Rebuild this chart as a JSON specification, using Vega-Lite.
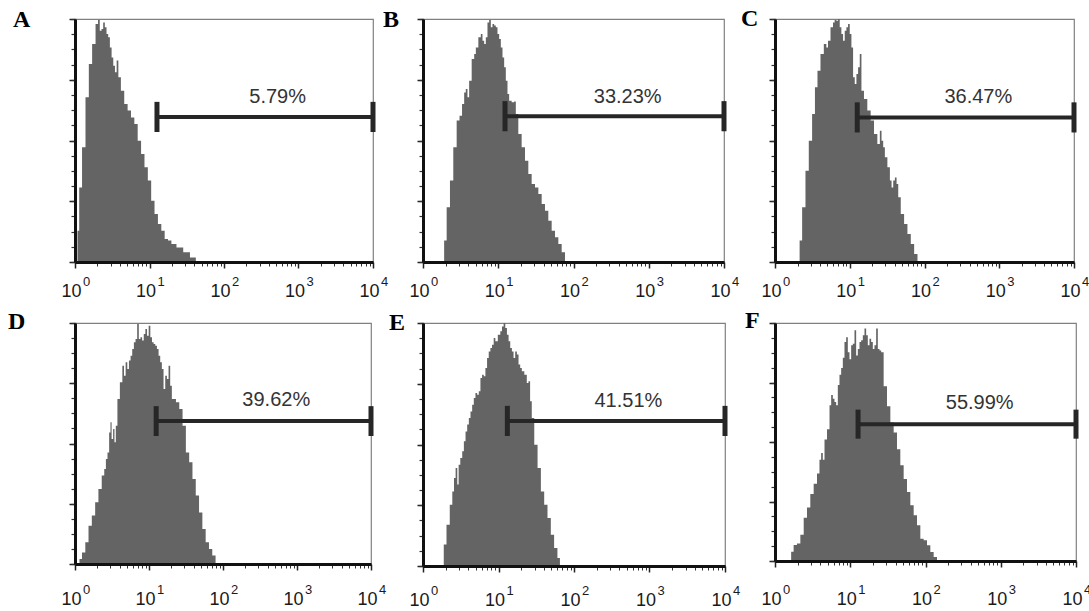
{
"$schema": "https://vega.github.io/schema/vega-lite/v6.json",
"padding": {"left": 7, "top": 6, "right": 0, "bottom": 0},
"background": "white",
"datasets": {
"gate": [
{"p":"A","x0":12.6,"x1":10000,"y":59.7,"tx":525,"ty":68,"pct":"5.79%"},
{"p":"B","x0":12.3,"x1":10000,"y":60,"tx":525,"ty":68,"pct":"33.23%"},
{"p":"C","x0":12.6,"x1":10000,"y":59.5,"tx":525,"ty":68,"pct":"36.47%"},
{"p":"D","x0":12.5,"x1":10000,"y":59.3,"tx":525,"ty":68,"pct":"39.62%"},
{"p":"E","x0":13.1,"x1":10000,"y":59.7,"tx":525,"ty":68,"pct":"41.51%"},
{"p":"F","x0":12.7,"x1":10000,"y":57.5,"tx":525,"ty":66.5,"pct":"55.99%"}
],
"cap": [
{"p":"A","x":12.6,"lo":53.5,"hi":65.9},{"p":"A","x":10000,"lo":53.5,"hi":65.9},
{"p":"B","x":12.3,"lo":53.8,"hi":66.2},{"p":"B","x":10000,"lo":53.8,"hi":66.2},
{"p":"C","x":12.6,"lo":53.3,"hi":65.7},{"p":"C","x":10000,"lo":53.3,"hi":65.7},
{"p":"D","x":12.5,"lo":53.1,"hi":65.5},{"p":"D","x":10000,"lo":53.1,"hi":65.5},
{"p":"E","x":13.1,"lo":53.5,"hi":65.9},{"p":"E","x":10000,"lo":53.5,"hi":65.9},
{"p":"F","x":12.7,"lo":51.4,"hi":63.6},{"p":"F","x":10000,"lo":51.4,"hi":63.6}
],
"hist": [
{"p":"A","x":1.06,"y":0},{"p":"A","x":1.10,"y":12.9},{"p":"A","x":1.18,"y":30.7},{"p":"A","x":1.31,"y":47.2},{"p":"A","x":1.46,"y":67.8},{"p":"A","x":1.61,"y":81.5},{"p":"A","x":1.79,"y":89.7},{"p":"A","x":1.99,"y":97.9},{"p":"A","x":2.09,"y":99.6},{"p":"A","x":2.21,"y":95.2},{"p":"A","x":2.33,"y":95.9},{"p":"A","x":2.45,"y":98.6},{"p":"A","x":2.58,"y":96.6},{"p":"A","x":2.72,"y":93.8},{"p":"A","x":2.86,"y":92.5},{"p":"A","x":3.02,"y":88.3},{"p":"A","x":3.18,"y":84.2},{"p":"A","x":3.35,"y":80.8},{"p":"A","x":3.53,"y":78.1},{"p":"A","x":3.72,"y":82.9},{"p":"A","x":3.92,"y":76.0},{"p":"A","x":4.35,"y":70.5},{"p":"A","x":4.82,"y":65.0},{"p":"A","x":5.36,"y":62.3},{"p":"A","x":5.94,"y":59.5},{"p":"A","x":6.59,"y":56.8},{"p":"A","x":7.31,"y":49.9},{"p":"A","x":8.13,"y":44.4},{"p":"A","x":9.02,"y":39.0},{"p":"A","x":10.0,"y":33.5},{"p":"A","x":11.09,"y":25.2},{"p":"A","x":12.30,"y":19.8},{"p":"A","x":13.68,"y":15.6},{"p":"A","x":15.17,"y":12.9},{"p":"A","x":16.83,"y":9.5},{"p":"A","x":18.66,"y":8.8},{"p":"A","x":20.75,"y":7.4},{"p":"A","x":25.53,"y":6.0},{"p":"A","x":31.48,"y":4.0},{"p":"A","x":38.73,"y":1.9},{"p":"A","x":45.29,"y":0},
{"p":"B","x":1.86,"y":0},{"p":"B","x":1.96,"y":8.8},{"p":"B","x":2.17,"y":22.5},{"p":"B","x":2.40,"y":33.5},{"p":"B","x":2.66,"y":47.2},{"p":"B","x":2.95,"y":58.2},{"p":"B","x":3.17,"y":60.2},{"p":"B","x":3.44,"y":65.0},{"p":"B","x":3.61,"y":69.8},{"p":"B","x":3.80,"y":71.2},{"p":"B","x":4.00,"y":67.8},{"p":"B","x":4.21,"y":74.6},{"p":"B","x":4.67,"y":83.5},{"p":"B","x":4.91,"y":85.6},{"p":"B","x":5.17,"y":88.3},{"p":"B","x":5.72,"y":92.5},{"p":"B","x":6.02,"y":93.8},{"p":"B","x":6.33,"y":91.1},{"p":"B","x":6.67,"y":89.7},{"p":"B","x":7.01,"y":92.5},{"p":"B","x":7.38,"y":98.6},{"p":"B","x":7.77,"y":99.6},{"p":"B","x":8.17,"y":96.6},{"p":"B","x":8.60,"y":97.9},{"p":"B","x":9.05,"y":97.3},{"p":"B","x":9.52,"y":96.6},{"p":"B","x":10.02,"y":93.8},{"p":"B","x":10.55,"y":91.8},{"p":"B","x":11.10,"y":88.3},{"p":"B","x":11.68,"y":84.2},{"p":"B","x":12.29,"y":80.1},{"p":"B","x":12.93,"y":74.6},{"p":"B","x":13.61,"y":69.1},{"p":"B","x":14.32,"y":66.4},{"p":"B","x":15.86,"y":65.7},{"p":"B","x":16.69,"y":66.1},{"p":"B","x":17.56,"y":60.9},{"p":"B","x":19.44,"y":52.7},{"p":"B","x":21.53,"y":47.2},{"p":"B","x":23.86,"y":41.7},{"p":"B","x":26.40,"y":36.2},{"p":"B","x":29.24,"y":32.1},{"p":"B","x":32.42,"y":30.7},{"p":"B","x":35.89,"y":28.0},{"p":"B","x":39.72,"y":23.9},{"p":"B","x":43.97,"y":21.1},{"p":"B","x":48.71,"y":17.0},{"p":"B","x":53.95,"y":12.9},{"p":"B","x":59.72,"y":10.2},{"p":"B","x":66.18,"y":7.4},{"p":"B","x":73.28,"y":4.0},{"p":"B","x":81.13,"y":0},
{"p":"C","x":2.08,"y":0},{"p":"C","x":2.19,"y":8.8},{"p":"C","x":2.43,"y":22.5},{"p":"C","x":2.69,"y":37.6},{"p":"C","x":2.98,"y":49.9},{"p":"C","x":3.30,"y":60.9},{"p":"C","x":3.55,"y":71.9},{"p":"C","x":3.86,"y":78.7},{"p":"C","x":4.27,"y":85.6},{"p":"C","x":4.74,"y":89.7},{"p":"C","x":4.99,"y":88.3},{"p":"C","x":5.25,"y":91.1},{"p":"C","x":5.82,"y":96.6},{"p":"C","x":6.12,"y":98.6},{"p":"C","x":6.45,"y":99.6},{"p":"C","x":6.79,"y":99.3},{"p":"C","x":7.16,"y":100},{"p":"C","x":7.53,"y":96.6},{"p":"C","x":7.93,"y":93.8},{"p":"C","x":8.35,"y":91.1},{"p":"C","x":8.79,"y":95.2},{"p":"C","x":9.25,"y":96.6},{"p":"C","x":9.74,"y":97.9},{"p":"C","x":10.26,"y":93.8},{"p":"C","x":10.80,"y":88.3},{"p":"C","x":11.37,"y":76.0},{"p":"C","x":11.97,"y":73.3},{"p":"C","x":12.60,"y":77.4},{"p":"C","x":13.27,"y":80.1},{"p":"C","x":13.97,"y":85.6},{"p":"C","x":14.71,"y":70.5},{"p":"C","x":16.32,"y":67.1},{"p":"C","x":18.07,"y":62.3},{"p":"C","x":20.05,"y":58.2},{"p":"C","x":22.23,"y":52.7},{"p":"C","x":24.63,"y":48.6},{"p":"C","x":25.93,"y":54.0},{"p":"C","x":27.30,"y":49.9},{"p":"C","x":28.74,"y":47.2},{"p":"C","x":30.26,"y":43.1},{"p":"C","x":33.56,"y":39.0},{"p":"C","x":35.33,"y":33.5},{"p":"C","x":37.19,"y":30.7},{"p":"C","x":39.15,"y":33.5},{"p":"C","x":41.22,"y":34.8},{"p":"C","x":43.40,"y":32.1},{"p":"C","x":45.69,"y":26.6},{"p":"C","x":50.68,"y":19.8},{"p":"C","x":56.13,"y":15.6},{"p":"C","x":62.24,"y":11.5},{"p":"C","x":69.02,"y":7.4},{"p":"C","x":76.56,"y":3.3},{"p":"C","x":84.80,"y":0},
{"p":"D","x":1.12,"y":0},{"p":"D","x":1.18,"y":2.1},{"p":"D","x":1.31,"y":4.8},{"p":"D","x":1.45,"y":9.0},{"p":"D","x":1.60,"y":15.9},{"p":"D","x":1.78,"y":20.1},{"p":"D","x":1.97,"y":25.6},{"p":"D","x":2.18,"y":31.1},{"p":"D","x":2.42,"y":36.7},{"p":"D","x":2.55,"y":39.4},{"p":"D","x":2.68,"y":43.6},{"p":"D","x":2.82,"y":46.3},{"p":"D","x":2.97,"y":54.6},{"p":"D","x":3.06,"y":58.8},{"p":"D","x":3.19,"y":51.9},{"p":"D","x":3.36,"y":56.0},{"p":"D","x":3.47,"y":50.5},{"p":"D","x":3.65,"y":57.4},{"p":"D","x":3.84,"y":68.5},{"p":"D","x":4.25,"y":75.4},{"p":"D","x":4.48,"y":82.3},{"p":"D","x":4.71,"y":78.1},{"p":"D","x":4.96,"y":83.7},{"p":"D","x":5.22,"y":80.9},{"p":"D","x":5.50,"y":84.4},{"p":"D","x":5.78,"y":86.4},{"p":"D","x":6.09,"y":89.2},{"p":"D","x":6.41,"y":92.0},{"p":"D","x":6.75,"y":93.4},{"p":"D","x":7.10,"y":99.6},{"p":"D","x":7.47,"y":93.4},{"p":"D","x":7.87,"y":94.1},{"p":"D","x":8.28,"y":92.7},{"p":"D","x":8.71,"y":95.4},{"p":"D","x":9.17,"y":97.5},{"p":"D","x":9.65,"y":94.7},{"p":"D","x":10.16,"y":98.9},{"p":"D","x":10.69,"y":94.1},{"p":"D","x":11.26,"y":92.0},{"p":"D","x":11.85,"y":91.3},{"p":"D","x":12.47,"y":90.6},{"p":"D","x":13.13,"y":89.2},{"p":"D","x":13.82,"y":86.4},{"p":"D","x":14.54,"y":83.7},{"p":"D","x":15.31,"y":80.9},{"p":"D","x":16.14,"y":72.6},{"p":"D","x":17.01,"y":78.1},{"p":"D","x":17.91,"y":76.8},{"p":"D","x":18.85,"y":82.3},{"p":"D","x":19.84,"y":74.0},{"p":"D","x":20.88,"y":68.5},{"p":"D","x":21.98,"y":68.5},{"p":"D","x":24.36,"y":67.1},{"p":"D","x":26.98,"y":64.3},{"p":"D","x":29.91,"y":57.4},{"p":"D","x":33.17,"y":46.3},{"p":"D","x":36.73,"y":42.2},{"p":"D","x":40.70,"y":35.3},{"p":"D","x":45.09,"y":28.4},{"p":"D","x":49.96,"y":21.4},{"p":"D","x":55.40,"y":14.5},{"p":"D","x":61.39,"y":9.0},{"p":"D","x":68.02,"y":6.2},{"p":"D","x":75.37,"y":3.5},{"p":"D","x":83.52,"y":0},
{"p":"E","x":1.82,"y":0},{"p":"E","x":1.95,"y":8.8},{"p":"E","x":2.15,"y":17.0},{"p":"E","x":2.38,"y":25.2},{"p":"E","x":2.51,"y":30.7},{"p":"E","x":2.64,"y":36.2},{"p":"E","x":2.77,"y":40.3},{"p":"E","x":2.92,"y":33.5},{"p":"E","x":3.01,"y":41.7},{"p":"E","x":3.23,"y":44.4},{"p":"E","x":3.39,"y":47.2},{"p":"E","x":3.57,"y":51.3},{"p":"E","x":3.75,"y":55.4},{"p":"E","x":3.95,"y":58.2},{"p":"E","x":4.15,"y":60.9},{"p":"E","x":4.37,"y":63.6},{"p":"E","x":4.59,"y":66.4},{"p":"E","x":4.83,"y":69.1},{"p":"E","x":5.08,"y":71.2},{"p":"E","x":5.35,"y":70.5},{"p":"E","x":5.62,"y":71.9},{"p":"E","x":5.91,"y":77.4},{"p":"E","x":6.22,"y":78.7},{"p":"E","x":6.54,"y":78.1},{"p":"E","x":6.88,"y":81.5},{"p":"E","x":7.24,"y":85.6},{"p":"E","x":7.61,"y":88.3},{"p":"E","x":8.01,"y":89.7},{"p":"E","x":8.42,"y":91.1},{"p":"E","x":8.86,"y":93.8},{"p":"E","x":9.31,"y":92.5},{"p":"E","x":10.30,"y":95.2},{"p":"E","x":10.84,"y":96.6},{"p":"E","x":11.40,"y":98.6},{"p":"E","x":11.99,"y":100},{"p":"E","x":12.61,"y":97.9},{"p":"E","x":13.26,"y":95.2},{"p":"E","x":13.95,"y":92.5},{"p":"E","x":14.67,"y":89.7},{"p":"E","x":15.43,"y":88.3},{"p":"E","x":16.23,"y":85.6},{"p":"E","x":17.07,"y":88.3},{"p":"E","x":17.96,"y":87.0},{"p":"E","x":18.89,"y":82.9},{"p":"E","x":19.87,"y":81.5},{"p":"E","x":20.89,"y":80.1},{"p":"E","x":23.11,"y":78.7},{"p":"E","x":24.31,"y":75.3},{"p":"E","x":25.57,"y":76.0},{"p":"E","x":26.89,"y":67.8},{"p":"E","x":28.29,"y":60.9},{"p":"E","x":31.30,"y":49.9},{"p":"E","x":34.62,"y":40.3},{"p":"E","x":38.30,"y":30.7},{"p":"E","x":42.37,"y":25.2},{"p":"E","x":46.87,"y":19.8},{"p":"E","x":51.84,"y":12.9},{"p":"E","x":57.35,"y":7.4},{"p":"E","x":63.44,"y":3.3},{"p":"E","x":66.73,"y":0},
{"p":"F","x":1.60,"y":0},{"p":"F","x":1.68,"y":3.9},{"p":"F","x":1.86,"y":6.7},{"p":"F","x":2.06,"y":7.4},{"p":"F","x":2.29,"y":11.0},{"p":"F","x":2.53,"y":18.2},{"p":"F","x":2.80,"y":22.5},{"p":"F","x":3.10,"y":28.2},{"p":"F","x":3.44,"y":32.5},{"p":"F","x":3.80,"y":36.8},{"p":"F","x":4.00,"y":42.5},{"p":"F","x":4.21,"y":45.4},{"p":"F","x":4.43,"y":42.5},{"p":"F","x":4.67,"y":51.1},{"p":"F","x":5.17,"y":55.4},{"p":"F","x":5.44,"y":65.4},{"p":"F","x":5.72,"y":69.7},{"p":"F","x":6.02,"y":68.2},{"p":"F","x":6.33,"y":66.8},{"p":"F","x":6.67,"y":65.4},{"p":"F","x":7.01,"y":74.0},{"p":"F","x":7.38,"y":78.3},{"p":"F","x":7.77,"y":81.1},{"p":"F","x":8.17,"y":85.4},{"p":"F","x":8.60,"y":92.0},{"p":"F","x":9.05,"y":94.0},{"p":"F","x":9.52,"y":87.7},{"p":"F","x":10.02,"y":84.8},{"p":"F","x":10.55,"y":90.6},{"p":"F","x":11.10,"y":91.3},{"p":"F","x":11.68,"y":97.0},{"p":"F","x":12.29,"y":86.3},{"p":"F","x":12.93,"y":89.1},{"p":"F","x":13.61,"y":92.0},{"p":"F","x":14.32,"y":92.7},{"p":"F","x":15.07,"y":94.9},{"p":"F","x":15.86,"y":97.7},{"p":"F","x":16.69,"y":94.9},{"p":"F","x":17.56,"y":90.6},{"p":"F","x":18.48,"y":93.4},{"p":"F","x":19.44,"y":92.0},{"p":"F","x":20.46,"y":89.1},{"p":"F","x":21.53,"y":90.6},{"p":"F","x":22.66,"y":97.7},{"p":"F","x":23.86,"y":89.1},{"p":"F","x":25.10,"y":88.4},{"p":"F","x":26.40,"y":87.7},{"p":"F","x":29.24,"y":73.4},{"p":"F","x":32.42,"y":65.0},{"p":"F","x":35.89,"y":58.2},{"p":"F","x":39.72,"y":54.0},{"p":"F","x":43.97,"y":47.0},{"p":"F","x":48.71,"y":40.2},{"p":"F","x":53.95,"y":34.5},{"p":"F","x":59.72,"y":29.0},{"p":"F","x":66.18,"y":23.4},{"p":"F","x":73.28,"y":19.2},{"p":"F","x":81.13,"y":15.0},{"p":"F","x":89.80,"y":9.4},{"p":"F","x":99.5,"y":8.7},{"p":"F","x":110.2,"y":6.6},{"p":"F","x":121.9,"y":3.8},{"p":"F","x":135.1,"y":1.7},{"p":"F","x":149.6,"y":0}
]
},
"bounds": "flush",
"align": "each",
"columns": 3,
"spacing": {"row": 61, "column": 50},
"concat": [
{"width": 298, "height": 243,
"title": {"text": "A", "anchor": "start", "frame": "group", "orient": "top", "baseline": "alphabetic", "offset": 0, "dx": -62, "dy": 33, "font": "Liberation Serif", "fontSize": 24, "fontWeight": "bold", "color": "#000"},
"layer": [
{"data": {"name": "hist"}, "transform": [{"filter": "datum.p === 'A'"}], "mark": {"type": "area", "interpolate": "step", "color": "#646464"},
"encoding": {"x": {"field": "x", "type": "quantitative", "scale": {"type": "log", "domain": [1, 10000]}, "axis": {"orient": "bottom", "zindex": 1, "values": [1,10,100,1000,10000], "labelExpr": "'10'", "tickSize": 6, "tickWidth": 1.5, "tickColor": "#222", "domainColor": "#111", "domainWidth": 3, "labelFontSize": 18, "labelColor": "#1a1a1a", "labelPadding": 14, "labelOffset": -4, "labelFlush": false, "labelOverlap": false, "labelBound": false, "title": null, "grid": false}},
"y": {"field": "y", "type": "quantitative", "scale": {"domain": [0, 100]}, "axis": {"orient": "left", "zindex": 1, "values": [0,6.25,12.5,18.75,25,31.25,37.5,43.75,50,56.25,62.5,68.75,75,81.25,87.5,93.75,100], "tickSize": 4, "tickWidth": 1.2, "tickColor": "#333", "labels": false, "domainColor": "#111", "domainWidth": 3, "title": null, "grid": false}}}},
{"data": {"name": "gate"}, "transform": [{"filter": "datum.p === 'A'"}], "mark": {"type": "rule", "strokeWidth": 4, "color": "#262626"},
"encoding": {"x": {"field": "x0", "type": "quantitative", "axis": {"orient": "bottom", "values": [2,3,4,5,6,7,8,9,20,30,40,50,60,70,80,90,200,300,400,500,600,700,800,900,2000,3000,4000,5000,6000,7000,8000,9000], "tickSize": 4, "tickWidth": 1, "tickColor": "#333", "labels": false, "domain": false, "title": null, "grid": false}}, "x2": {"field": "x1"},
"y": {"field": "y", "type": "quantitative", "axis": {"orient": "left", "values": [0,25,50,75,100], "tickSize": 6, "tickWidth": 1.5, "tickColor": "#222", "labels": false, "domain": false, "title": null, "grid": false}}}},
{"data": {"name": "cap"}, "transform": [{"filter": "datum.p === 'A'"}], "mark": {"type": "rule", "strokeWidth": 5, "color": "#262626"},
"encoding": {"x": {"field": "x", "type": "quantitative", "axis": {"orient": "bottom", "values": [1,10,100,1000,10000], "labelExpr": "'' + round(log(datum.value)/LN10)", "ticks": false, "tickSize": 0, "domain": false, "labelFontSize": 13, "labelColor": "#1a1a1a", "labelPadding": 13, "labelOffset": 11, "labelFlush": false, "labelOverlap": false, "labelBound": false, "title": null, "grid": false}},
"y": {"field": "lo", "type": "quantitative", "axis": null}, "y2": {"field": "hi"}}},
{"data": {"name": "gate"}, "transform": [{"filter": "datum.p === 'A'"}], "mark": {"type": "text", "font": "Liberation Sans", "fontSize": 20, "color": "#333", "align": "center", "baseline": "middle"},
"encoding": {"x": {"field": "tx", "type": "quantitative", "axis": null}, "y": {"field": "ty", "type": "quantitative", "axis": null}, "text": {"field": "pct"}}}
],
"resolve": {"axis": {"x": "independent", "y": "independent"}}},
{"width": 301, "height": 243,
"title": {"text": "B", "anchor": "start", "frame": "group", "orient": "top", "baseline": "alphabetic", "offset": 0, "dx": -40, "dy": 33, "font": "Liberation Serif", "fontSize": 24, "fontWeight": "bold", "color": "#000"},
"layer": [
{"data": {"name": "hist"}, "transform": [{"filter": "datum.p === 'B'"}], "mark": {"type": "area", "interpolate": "step", "color": "#646464"},
"encoding": {"x": {"field": "x", "type": "quantitative", "scale": {"type": "log", "domain": [1, 10000]}, "axis": {"orient": "bottom", "zindex": 1, "values": [1,10,100,1000,10000], "labelExpr": "'10'", "tickSize": 6, "tickWidth": 1.5, "tickColor": "#222", "domainColor": "#111", "domainWidth": 3, "labelFontSize": 18, "labelColor": "#1a1a1a", "labelPadding": 14, "labelOffset": -4, "labelFlush": false, "labelOverlap": false, "labelBound": false, "title": null, "grid": false}},
"y": {"field": "y", "type": "quantitative", "scale": {"domain": [0, 100]}, "axis": {"orient": "left", "zindex": 1, "values": [0,6.25,12.5,18.75,25,31.25,37.5,43.75,50,56.25,62.5,68.75,75,81.25,87.5,93.75,100], "tickSize": 4, "tickWidth": 1.2, "tickColor": "#333", "labels": false, "domainColor": "#111", "domainWidth": 3, "title": null, "grid": false}}}},
{"data": {"name": "gate"}, "transform": [{"filter": "datum.p === 'B'"}], "mark": {"type": "rule", "strokeWidth": 4, "color": "#262626"},
"encoding": {"x": {"field": "x0", "type": "quantitative", "axis": {"orient": "bottom", "values": [2,3,4,5,6,7,8,9,20,30,40,50,60,70,80,90,200,300,400,500,600,700,800,900,2000,3000,4000,5000,6000,7000,8000,9000], "tickSize": 4, "tickWidth": 1, "tickColor": "#333", "labels": false, "domain": false, "title": null, "grid": false}}, "x2": {"field": "x1"},
"y": {"field": "y", "type": "quantitative", "axis": {"orient": "left", "values": [0,25,50,75,100], "tickSize": 6, "tickWidth": 1.5, "tickColor": "#222", "labels": false, "domain": false, "title": null, "grid": false}}}},
{"data": {"name": "cap"}, "transform": [{"filter": "datum.p === 'B'"}], "mark": {"type": "rule", "strokeWidth": 5, "color": "#262626"},
"encoding": {"x": {"field": "x", "type": "quantitative", "axis": {"orient": "bottom", "values": [1,10,100,1000,10000], "labelExpr": "'' + round(log(datum.value)/LN10)", "ticks": false, "tickSize": 0, "domain": false, "labelFontSize": 13, "labelColor": "#1a1a1a", "labelPadding": 13, "labelOffset": 11, "labelFlush": false, "labelOverlap": false, "labelBound": false, "title": null, "grid": false}},
"y": {"field": "lo", "type": "quantitative", "axis": null}, "y2": {"field": "hi"}}},
{"data": {"name": "gate"}, "transform": [{"filter": "datum.p === 'B'"}], "mark": {"type": "text", "font": "Liberation Sans", "fontSize": 20, "color": "#333", "align": "center", "baseline": "middle"},
"encoding": {"x": {"field": "tx", "type": "quantitative", "axis": null}, "y": {"field": "ty", "type": "quantitative", "axis": null}, "text": {"field": "pct"}}}
],
"resolve": {"axis": {"x": "independent", "y": "independent"}}},
{"width": 299, "height": 243,
"title": {"text": "C", "anchor": "start", "frame": "group", "orient": "top", "baseline": "alphabetic", "offset": 0, "dx": -34, "dy": 32, "font": "Liberation Serif", "fontSize": 24, "fontWeight": "bold", "color": "#000"},
"layer": [
{"data": {"name": "hist"}, "transform": [{"filter": "datum.p === 'C'"}], "mark": {"type": "area", "interpolate": "step", "color": "#646464"},
"encoding": {"x": {"field": "x", "type": "quantitative", "scale": {"type": "log", "domain": [1, 10000]}, "axis": {"orient": "bottom", "zindex": 1, "values": [1,10,100,1000,10000], "labelExpr": "'10'", "tickSize": 6, "tickWidth": 1.5, "tickColor": "#222", "domainColor": "#111", "domainWidth": 3, "labelFontSize": 18, "labelColor": "#1a1a1a", "labelPadding": 14, "labelOffset": -4, "labelFlush": false, "labelOverlap": false, "labelBound": false, "title": null, "grid": false}},
"y": {"field": "y", "type": "quantitative", "scale": {"domain": [0, 100]}, "axis": {"orient": "left", "zindex": 1, "values": [0,6.25,12.5,18.75,25,31.25,37.5,43.75,50,56.25,62.5,68.75,75,81.25,87.5,93.75,100], "tickSize": 4, "tickWidth": 1.2, "tickColor": "#333", "labels": false, "domainColor": "#111", "domainWidth": 3, "title": null, "grid": false}}}},
{"data": {"name": "gate"}, "transform": [{"filter": "datum.p === 'C'"}], "mark": {"type": "rule", "strokeWidth": 4, "color": "#262626"},
"encoding": {"x": {"field": "x0", "type": "quantitative", "axis": {"orient": "bottom", "values": [2,3,4,5,6,7,8,9,20,30,40,50,60,70,80,90,200,300,400,500,600,700,800,900,2000,3000,4000,5000,6000,7000,8000,9000], "tickSize": 4, "tickWidth": 1, "tickColor": "#333", "labels": false, "domain": false, "title": null, "grid": false}}, "x2": {"field": "x1"},
"y": {"field": "y", "type": "quantitative", "axis": {"orient": "left", "values": [0,25,50,75,100], "tickSize": 6, "tickWidth": 1.5, "tickColor": "#222", "labels": false, "domain": false, "title": null, "grid": false}}}},
{"data": {"name": "cap"}, "transform": [{"filter": "datum.p === 'C'"}], "mark": {"type": "rule", "strokeWidth": 5, "color": "#262626"},
"encoding": {"x": {"field": "x", "type": "quantitative", "axis": {"orient": "bottom", "values": [1,10,100,1000,10000], "labelExpr": "'' + round(log(datum.value)/LN10)", "ticks": false, "tickSize": 0, "domain": false, "labelFontSize": 13, "labelColor": "#1a1a1a", "labelPadding": 13, "labelOffset": 11, "labelFlush": false, "labelOverlap": false, "labelBound": false, "title": null, "grid": false}},
"y": {"field": "lo", "type": "quantitative", "axis": null}, "y2": {"field": "hi"}}},
{"data": {"name": "gate"}, "transform": [{"filter": "datum.p === 'C'"}], "mark": {"type": "text", "font": "Liberation Sans", "fontSize": 20, "color": "#333", "align": "center", "baseline": "middle"},
"encoding": {"x": {"field": "tx", "type": "quantitative", "axis": null}, "y": {"field": "ty", "type": "quantitative", "axis": null}, "text": {"field": "pct"}}}
],
"resolve": {"axis": {"x": "independent", "y": "independent"}}},
{"width": 296, "height": 241,
"title": {"text": "D", "anchor": "start", "frame": "group", "orient": "top", "baseline": "alphabetic", "offset": 0, "dx": -67, "dy": 31, "font": "Liberation Serif", "fontSize": 24, "fontWeight": "bold", "color": "#000"},
"layer": [
{"data": {"name": "hist"}, "transform": [{"filter": "datum.p === 'D'"}], "mark": {"type": "area", "interpolate": "step", "color": "#646464"},
"encoding": {"x": {"field": "x", "type": "quantitative", "scale": {"type": "log", "domain": [1, 10000]}, "axis": {"orient": "bottom", "zindex": 1, "values": [1,10,100,1000,10000], "labelExpr": "'10'", "tickSize": 6, "tickWidth": 1.5, "tickColor": "#222", "domainColor": "#111", "domainWidth": 3, "labelFontSize": 18, "labelColor": "#1a1a1a", "labelPadding": 20, "labelOffset": -4, "labelFlush": false, "labelOverlap": false, "labelBound": false, "title": null, "grid": false}},
"y": {"field": "y", "type": "quantitative", "scale": {"domain": [0, 100]}, "axis": {"orient": "left", "zindex": 1, "values": [0,6.25,12.5,18.75,25,31.25,37.5,43.75,50,56.25,62.5,68.75,75,81.25,87.5,93.75,100], "tickSize": 4, "tickWidth": 1.2, "tickColor": "#333", "labels": false, "domainColor": "#111", "domainWidth": 3, "title": null, "grid": false}}}},
{"data": {"name": "gate"}, "transform": [{"filter": "datum.p === 'D'"}], "mark": {"type": "rule", "strokeWidth": 4, "color": "#262626"},
"encoding": {"x": {"field": "x0", "type": "quantitative", "axis": {"orient": "bottom", "values": [2,3,4,5,6,7,8,9,20,30,40,50,60,70,80,90,200,300,400,500,600,700,800,900,2000,3000,4000,5000,6000,7000,8000,9000], "tickSize": 4, "tickWidth": 1, "tickColor": "#333", "labels": false, "domain": false, "title": null, "grid": false}}, "x2": {"field": "x1"},
"y": {"field": "y", "type": "quantitative", "axis": {"orient": "left", "values": [0,25,50,75,100], "tickSize": 6, "tickWidth": 1.5, "tickColor": "#222", "labels": false, "domain": false, "title": null, "grid": false}}}},
{"data": {"name": "cap"}, "transform": [{"filter": "datum.p === 'D'"}], "mark": {"type": "rule", "strokeWidth": 5, "color": "#262626"},
"encoding": {"x": {"field": "x", "type": "quantitative", "axis": {"orient": "bottom", "values": [1,10,100,1000,10000], "labelExpr": "'' + round(log(datum.value)/LN10)", "ticks": false, "tickSize": 0, "domain": false, "labelFontSize": 13, "labelColor": "#1a1a1a", "labelPadding": 19, "labelOffset": 11, "labelFlush": false, "labelOverlap": false, "labelBound": false, "title": null, "grid": false}},
"y": {"field": "lo", "type": "quantitative", "axis": null}, "y2": {"field": "hi"}}},
{"data": {"name": "gate"}, "transform": [{"filter": "datum.p === 'D'"}], "mark": {"type": "text", "font": "Liberation Sans", "fontSize": 20, "color": "#333", "align": "center", "baseline": "middle"},
"encoding": {"x": {"field": "tx", "type": "quantitative", "axis": null}, "y": {"field": "ty", "type": "quantitative", "axis": null}, "text": {"field": "pct"}}}
],
"resolve": {"axis": {"x": "independent", "y": "independent"}}},
{"width": 302, "height": 243,
"title": {"text": "E", "anchor": "start", "frame": "group", "orient": "top", "baseline": "alphabetic", "offset": 0, "dx": -34, "dy": 32, "font": "Liberation Serif", "fontSize": 24, "fontWeight": "bold", "color": "#000"},
"layer": [
{"data": {"name": "hist"}, "transform": [{"filter": "datum.p === 'E'"}], "mark": {"type": "area", "interpolate": "step", "color": "#646464"},
"encoding": {"x": {"field": "x", "type": "quantitative", "scale": {"type": "log", "domain": [1, 10000]}, "axis": {"orient": "bottom", "zindex": 1, "values": [1,10,100,1000,10000], "labelExpr": "'10'", "tickSize": 6, "tickWidth": 1.5, "tickColor": "#222", "domainColor": "#111", "domainWidth": 3, "labelFontSize": 18, "labelColor": "#1a1a1a", "labelPadding": 19, "labelOffset": -4, "labelFlush": false, "labelOverlap": false, "labelBound": false, "title": null, "grid": false}},
"y": {"field": "y", "type": "quantitative", "scale": {"domain": [0, 100]}, "axis": {"orient": "left", "zindex": 1, "values": [0,6.25,12.5,18.75,25,31.25,37.5,43.75,50,56.25,62.5,68.75,75,81.25,87.5,93.75,100], "tickSize": 4, "tickWidth": 1.2, "tickColor": "#333", "labels": false, "domainColor": "#111", "domainWidth": 3, "title": null, "grid": false}}}},
{"data": {"name": "gate"}, "transform": [{"filter": "datum.p === 'E'"}], "mark": {"type": "rule", "strokeWidth": 4, "color": "#262626"},
"encoding": {"x": {"field": "x0", "type": "quantitative", "axis": {"orient": "bottom", "values": [2,3,4,5,6,7,8,9,20,30,40,50,60,70,80,90,200,300,400,500,600,700,800,900,2000,3000,4000,5000,6000,7000,8000,9000], "tickSize": 4, "tickWidth": 1, "tickColor": "#333", "labels": false, "domain": false, "title": null, "grid": false}}, "x2": {"field": "x1"},
"y": {"field": "y", "type": "quantitative", "axis": {"orient": "left", "values": [0,25,50,75,100], "tickSize": 6, "tickWidth": 1.5, "tickColor": "#222", "labels": false, "domain": false, "title": null, "grid": false}}}},
{"data": {"name": "cap"}, "transform": [{"filter": "datum.p === 'E'"}], "mark": {"type": "rule", "strokeWidth": 5, "color": "#262626"},
"encoding": {"x": {"field": "x", "type": "quantitative", "axis": {"orient": "bottom", "values": [1,10,100,1000,10000], "labelExpr": "'' + round(log(datum.value)/LN10)", "ticks": false, "tickSize": 0, "domain": false, "labelFontSize": 13, "labelColor": "#1a1a1a", "labelPadding": 18, "labelOffset": 11, "labelFlush": false, "labelOverlap": false, "labelBound": false, "title": null, "grid": false}},
"y": {"field": "lo", "type": "quantitative", "axis": null}, "y2": {"field": "hi"}}},
{"data": {"name": "gate"}, "transform": [{"filter": "datum.p === 'E'"}], "mark": {"type": "text", "font": "Liberation Sans", "fontSize": 20, "color": "#333", "align": "center", "baseline": "middle"},
"encoding": {"x": {"field": "tx", "type": "quantitative", "axis": null}, "y": {"field": "ty", "type": "quantitative", "axis": null}, "text": {"field": "pct"}}}
],
"resolve": {"axis": {"x": "independent", "y": "independent"}}},
{"width": 301, "height": 238,
"title": {"text": "F", "anchor": "start", "frame": "group", "orient": "top", "baseline": "alphabetic", "offset": 0, "dx": -30, "dy": 30, "font": "Liberation Serif", "fontSize": 24, "fontWeight": "bold", "color": "#000"},
"layer": [
{"data": {"name": "hist"}, "transform": [{"filter": "datum.p === 'F'"}], "mark": {"type": "area", "interpolate": "step", "color": "#646464"},
"encoding": {"x": {"field": "x", "type": "quantitative", "scale": {"type": "log", "domain": [1, 10000]}, "axis": {"orient": "bottom", "zindex": 1, "values": [1,10,100,1000,10000], "labelExpr": "'10'", "tickSize": 6, "tickWidth": 1.5, "tickColor": "#222", "domainColor": "#111", "domainWidth": 3, "labelFontSize": 18, "labelColor": "#1a1a1a", "labelPadding": 23, "labelOffset": -4, "labelFlush": false, "labelOverlap": false, "labelBound": false, "title": null, "grid": false}},
"y": {"field": "y", "type": "quantitative", "scale": {"domain": [0, 100]}, "axis": {"orient": "left", "zindex": 1, "values": [0,6.25,12.5,18.75,25,31.25,37.5,43.75,50,56.25,62.5,68.75,75,81.25,87.5,93.75,100], "tickSize": 4, "tickWidth": 1.2, "tickColor": "#333", "labels": false, "domainColor": "#111", "domainWidth": 3, "title": null, "grid": false}}}},
{"data": {"name": "gate"}, "transform": [{"filter": "datum.p === 'F'"}], "mark": {"type": "rule", "strokeWidth": 4, "color": "#262626"},
"encoding": {"x": {"field": "x0", "type": "quantitative", "axis": {"orient": "bottom", "values": [2,3,4,5,6,7,8,9,20,30,40,50,60,70,80,90,200,300,400,500,600,700,800,900,2000,3000,4000,5000,6000,7000,8000,9000], "tickSize": 4, "tickWidth": 1, "tickColor": "#333", "labels": false, "domain": false, "title": null, "grid": false}}, "x2": {"field": "x1"},
"y": {"field": "y", "type": "quantitative", "axis": {"orient": "left", "values": [0,25,50,75,100], "tickSize": 6, "tickWidth": 1.5, "tickColor": "#222", "labels": false, "domain": false, "title": null, "grid": false}}}},
{"data": {"name": "cap"}, "transform": [{"filter": "datum.p === 'F'"}], "mark": {"type": "rule", "strokeWidth": 5, "color": "#262626"},
"encoding": {"x": {"field": "x", "type": "quantitative", "axis": {"orient": "bottom", "values": [1,10,100,1000,10000], "labelExpr": "'' + round(log(datum.value)/LN10)", "ticks": false, "tickSize": 0, "domain": false, "labelFontSize": 13, "labelColor": "#1a1a1a", "labelPadding": 22, "labelOffset": 11, "labelFlush": false, "labelOverlap": false, "labelBound": false, "title": null, "grid": false}},
"y": {"field": "lo", "type": "quantitative", "axis": null}, "y2": {"field": "hi"}}},
{"data": {"name": "gate"}, "transform": [{"filter": "datum.p === 'F'"}], "mark": {"type": "text", "font": "Liberation Sans", "fontSize": 20, "color": "#333", "align": "center", "baseline": "middle"},
"encoding": {"x": {"field": "tx", "type": "quantitative", "axis": null}, "y": {"field": "ty", "type": "quantitative", "axis": null}, "text": {"field": "pct"}}}
],
"resolve": {"axis": {"x": "independent", "y": "independent"}}}
],
"config": {
"axis": {"labelFont": "Liberation Sans"},
"view": {"stroke": "#808080", "strokeWidth": 1.2}
}
}
